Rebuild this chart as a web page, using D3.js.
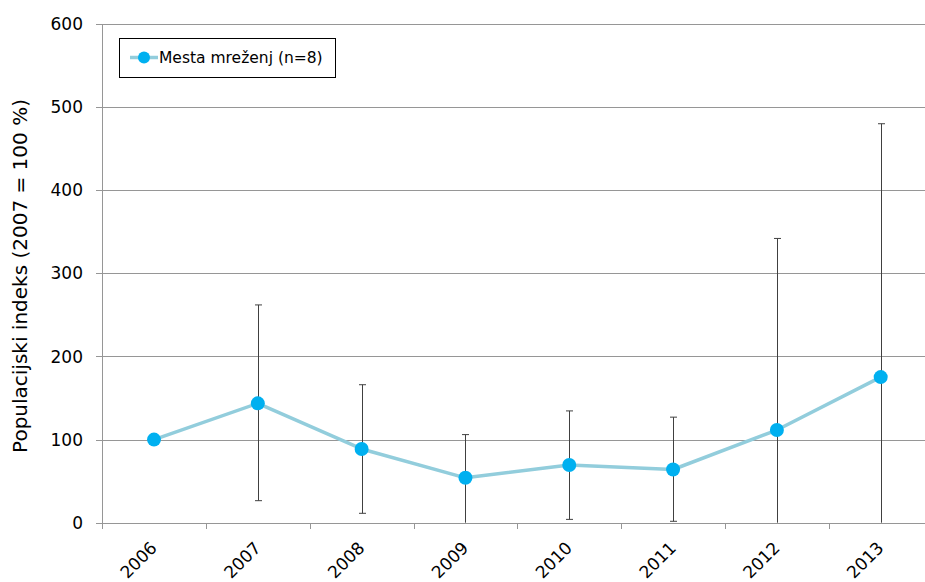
<!DOCTYPE html>
<html><head><meta charset="utf-8">
<script src="https://cdn.jsdelivr.net/npm/d3@7"></script>
<style>body{margin:0;background:#fff}svg{display:block}text{font-family:"DejaVu Sans",Verdana,sans-serif;fill:#000}</style>
</head><body><svg id="c" width="925" height="582"></svg>
<script>
const years = ["2006","2007","2008","2009","2010","2011","2012","2013"];
const values = [100, 143.6, 88.7, 54, 69.5, 64, 111.5, 175.2];
const upper = [100, 262, 166, 106, 134.5, 127, 342, 480];
const lower = [100, 26.5, 11.3, -10, 4, 1.7, -50, -50];
const yTicks = [0,100,200,300,400,500,600];
const seriesName = "Mesta mreženj (n=8)";
const yTitle = "Populacijski indeks (2007 = 100 %)";

const svg = d3.select("#c");
const x = d3.scaleBand().domain(years).range([102.1, 932.6]);
const y = d3.scaleLinear().domain([0,600]).range([522.7, 24]);
const cx = d => x(d) + x.bandwidth()/2;

// gridlines
svg.append("g").selectAll("line").data(yTicks).join("line")
  .attr("x1", 96).attr("x2", 925).attr("y1", d=>Math.round(y(d))+0.5).attr("y2", d=>Math.round(y(d))+0.5)
  .attr("stroke", "#969696").attr("stroke-width", 1);

// y axis line
svg.append("line").attr("x1",102.5).attr("x2",102.5).attr("y1",y(600)).attr("y2",529)
  .attr("stroke","#969696");
// x tick marks
svg.append("g").selectAll("line").data(years.slice(1)).join("line")
  .attr("x1", d=>Math.round(x(d))+0.5).attr("x2", d=>Math.round(x(d))+0.5)
  .attr("y1", 523).attr("y2", 529).attr("stroke","#969696");

// y tick labels
svg.append("g").selectAll("text").data(yTicks).join("text")
  .attr("x", 83).attr("y", d=>y(d)).attr("dy","0.36em").attr("text-anchor","end")
  .attr("font-size", 17).text(d=>d);

// y title
svg.append("text").attr("transform","translate(27,276) rotate(-90)")
  .attr("text-anchor","middle").attr("font-size",20).text(yTitle);

// x labels
svg.append("g").selectAll("text").data(years).join("text")
  .attr("transform", d=>`translate(${cx(d)+4},549) rotate(-45)`)
  .attr("text-anchor","end").attr("font-size",17).text(d=>d);

// error bars
const eb = svg.append("g").attr("stroke","#404040").attr("stroke-width",1);
years.forEach((yr,i)=>{
  if (upper[i]===values[i] && lower[i]===values[i]) return;
  const X = Math.round(cx(yr))+0.5;
  const lo = Math.max(lower[i],0);
  eb.append("line").attr("x1",X).attr("x2",X).attr("y1",y(upper[i])).attr("y2",y(lo));
  eb.append("line").attr("x1",X-3.5).attr("x2",X+3.5).attr("y1",y(upper[i])).attr("y2",y(upper[i]));
  if (lower[i] > 0) eb.append("line").attr("x1",X-3.5).attr("x2",X+3.5).attr("y1",y(lower[i])).attr("y2",y(lower[i]));
});

// line
const line = d3.line().x((d,i)=>cx(years[i])).y(d=>y(d));
svg.append("path").datum(values).attr("d", line).attr("fill","none")
  .attr("stroke","#92CDDC").attr("stroke-width",3.5).attr("stroke-linejoin","round");
svg.append("g").selectAll("circle").data(values).join("circle")
  .attr("cx",(d,i)=>cx(years[i])).attr("cy",d=>y(d)).attr("r",7).attr("fill","#00B0F0");

// legend
const lg = svg.append("g");
lg.append("rect").attr("x",119.5).attr("y",38.5).attr("width",216).attr("height",39)
  .attr("fill","#fff").attr("stroke","#000").attr("stroke-width",1);
lg.append("line").attr("x1",130).attr("x2",158).attr("y1",57.5).attr("y2",57.5)
  .attr("stroke","#92CDDC").attr("stroke-width",3.5);
lg.append("circle").attr("cx",144).attr("cy",57.5).attr("r",6).attr("fill","#00B0F0");
lg.append("text").attr("x",159).attr("y",57.5).attr("dy","0.36em").attr("font-size",15.5).text(seriesName);
</script></body></html>
